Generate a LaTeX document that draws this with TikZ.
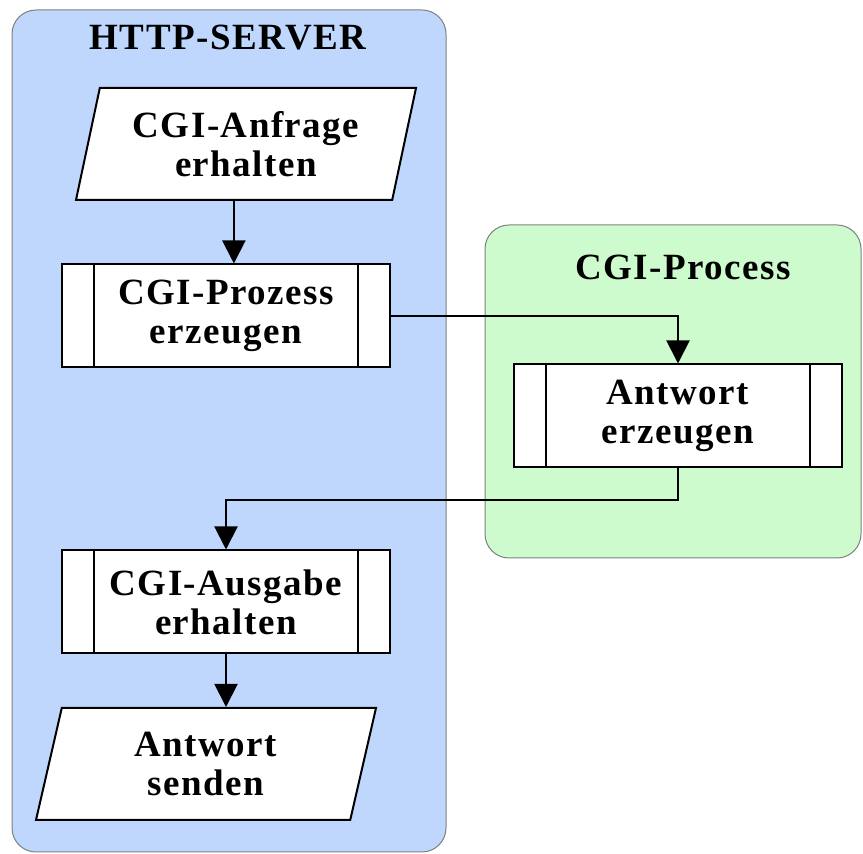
\documentclass[tikz,border=0pt]{standalone}
\usepackage{fontspec}
\setmainfont[LetterSpace=4]{Liberation Serif}
\usetikzlibrary{arrows.meta, shapes.geometric}

\definecolor{serverblue}{RGB}{191,215,252}
\definecolor{cgigreen}{RGB}{205,251,205}

\begin{document}
\begin{tikzpicture}[
    x=0.5pt, y=-0.5pt,
    font=\fontsize{18.5}{19.5}\selectfont\bfseries,
    panel/.style={draw=black!50, line width=0.5pt, rounded corners=12pt},
    paneltitle/.style={inner sep=0pt},
    procbox/.style={draw, line width=1pt, fill=white, align=center, minimum width=164pt, minimum height=51.5pt, inner sep=0pt},
    iobox/.style={draw, line width=1pt, fill=white, align=center, trapezium, trapezium left angle=70, trapezium right angle=110, trapezium stretches body, minimum width=170pt, minimum height=56pt, inner sep=0pt},
    arrow/.style={-{Triangle[length=11.5pt, width=11.5pt]}, line width=1pt}
]
\useasboundingbox (0,0) rectangle (863,854);

% panels
\draw[panel, fill=serverblue] (12,10) rectangle (446,852);
\draw[panel, fill=cgigreen] (485,225) rectangle (861,558);
\node[paneltitle] (servertitle) at (228,38) {HTTP-SERVER};
\node[paneltitle] (cgititle) at (683,267) {CGI-Process};

% steps
\node[iobox] (anfrage) at (246,144) {CGI-Anfrage\\erhalten};
\node[procbox] (prozess) at (226,316) {CGI-Prozess\\erzeugen};
\node[procbox] (antwort) at (678,416) {Antwort\\erzeugen};
\node[procbox] (ausgabe) at (226,602) {CGI-Ausgabe\\erhalten};
\node[iobox, trapezium left angle=68, trapezium right angle=112] (senden) at (206,764) {Antwort\\senden};

% side bars of the process boxes
\foreach \n in {prozess, antwort, ausgabe}
    \draw[line width=1pt] ([xshift=16.5pt]\n.north west) -- ([xshift=16.5pt]\n.south west)
        ([xshift=-16.5pt]\n.north east) -- ([xshift=-16.5pt]\n.south east);

\draw[arrow] (anfrage.bottom side) -- (anfrage.bottom side |- prozess.north);
\draw[arrow] (prozess.east) -| (antwort.north);
\draw[arrow] (antwort.south) -- ++(0,32) -| (ausgabe.north);
\draw[arrow] (ausgabe.south) -- (ausgabe.south |- senden.top side);

\end{tikzpicture}
\end{document}
